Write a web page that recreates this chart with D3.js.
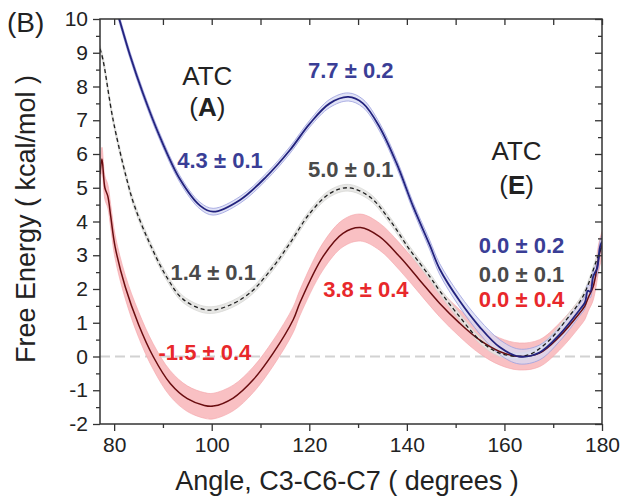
<!DOCTYPE html>
<html><head><meta charset="utf-8">
<script src="https://cdn.jsdelivr.net/npm/d3@7"></script>
<style>
html,body{margin:0;padding:0;background:#fff;}
svg{display:block;font-family:"Liberation Sans",Arial,sans-serif;}
</style></head>
<body><svg id="c" width="625" height="502"></svg>
<script>
// ---------------- data ----------------
const anglesBlue = [79.5, 81.1, 83.2, 85.9, 89.4, 93.5, 97.6, 100.3, 105.8, 111.2, 116.0, 120.1, 124.2, 128.0, 131.0, 134.4, 137.9, 141.3, 144.7, 146.7, 150.8, 154.9, 159.0, 163.0, 167.2, 171.3, 175.4, 176.5, 177.1, 177.6, 178.2, 179.0, 179.6, 180.0];
const energyBlue = [10.75, 9.97, 8.95, 7.80, 6.50, 5.25, 4.47, 4.29, 4.64, 5.33, 6.11, 6.90, 7.50, 7.69, 7.50, 6.80, 5.72, 4.44, 3.30, 2.60, 1.65, 0.88, 0.28, 0.00, 0.12, 0.65, 1.38, 1.60, 1.95, 1.92, 2.37, 2.62, 3.25, 3.40];
const errBlue    = [0.10, 0.10, 0.10, 0.10, 0.10, 0.10, 0.10, 0.10, 0.10, 0.10, 0.10, 0.10, 0.12, 0.12, 0.12, 0.12, 0.12, 0.12, 0.14, 0.16, 0.18, 0.20, 0.22, 0.22, 0.22, 0.20, 0.18, 0.18, 0.18, 0.18, 0.18, 0.18, 0.18, 0.18];

const anglesGray = [77.1, 77.7, 79.8, 82.5, 84.2, 87.3, 90.7, 94.1, 98.9, 103.0, 107.8, 112.6, 116.0, 120.1, 124.2, 128.0, 132.4, 136.5, 140.6, 144.7, 146.7, 150.8, 154.9, 159.0, 164.5, 168.6, 172.7, 176.1, 178.9, 180.0];
const energyGray = [9.12, 8.80, 7.00, 5.30, 4.45, 3.35, 2.37, 1.70, 1.38, 1.48, 1.88, 2.66, 3.35, 4.24, 4.83, 5.00, 4.73, 4.04, 3.16, 2.37, 1.95, 1.18, 0.49, 0.10, 0.03, 0.40, 1.09, 1.78, 2.86, 3.30];
const errGray    = [0.10, 0.10, 0.10, 0.10, 0.10, 0.10, 0.10, 0.10, 0.10, 0.10, 0.10, 0.10, 0.10, 0.10, 0.10, 0.10, 0.10, 0.10, 0.10, 0.10, 0.10, 0.10, 0.10, 0.10, 0.10, 0.10, 0.10, 0.10, 0.10, 0.10];

const anglesRed = [77.1, 77.5, 78.1, 78.7, 79.3, 80.2, 82.3, 85.0, 88.0, 91.5, 95.0, 98.5, 100.3, 104.4, 108.5, 112.6, 116.7, 118.1, 122.8, 126.9, 130.5, 134.4, 138.5, 142.6, 146.7, 150.8, 154.9, 159.0, 163.1, 167.2, 171.3, 175.4, 176.5, 177.2, 178.2, 179.5, 180.0];
const energyRed = [5.40, 5.85, 5.00, 4.75, 4.15, 3.25, 2.05, 0.95, 0.00, -0.80, -1.25, -1.45, -1.47, -1.23, -0.69, 0.10, 1.09, 1.60, 2.96, 3.65, 3.82, 3.55, 2.96, 2.27, 1.58, 0.99, 0.49, 0.15, 0.00, 0.10, 0.59, 1.28, 1.50, 1.75, 2.07, 3.06, 3.30];
const errRed    = [0.30, 0.35, 0.35, 0.35, 0.35, 0.35, 0.35, 0.38, 0.38, 0.38, 0.38, 0.38, 0.38, 0.38, 0.38, 0.38, 0.38, 0.38, 0.40, 0.40, 0.40, 0.40, 0.40, 0.40, 0.40, 0.40, 0.40, 0.40, 0.40, 0.40, 0.40, 0.40, 0.40, 0.40, 0.40, 0.40, 0.40];

const xTicksMajor = [80, 100, 120, 140, 160, 180];
const xTicksMinor = [90, 110, 130, 150, 170];
const yTicksMajor = [-2, -1, 0, 1, 2, 3, 4, 5, 6, 7, 8, 9, 10];
const yTicksMinor = [-1.5, -0.5, 0.5, 1.5, 2.5, 3.5, 4.5, 5.5, 6.5, 7.5, 8.5, 9.5];

const annotTexts  = ["7.7 ± 0.2", "4.3 ± 0.1", "5.0 ± 0.1", "1.4 ± 0.1", "-1.5 ± 0.4", "3.8 ± 0.4", "0.0 ± 0.2", "0.0 ± 0.1", "0.0 ± 0.4"];
const annotSeries = ["blue", "blue", "gray", "gray", "red", "red", "blue", "gray", "red"];
const annotAngle  = [128.5, 101.7, 128.5, 100.3, 98.6, 131.6, 163.5, 163.5, 163.5];
const annotEnergy = [8.24, 5.58, 5.33, 2.27, -0.10, 1.77, 3.06, 2.22, 1.46];

// ---------------- layout ----------------
const svg = d3.select("#c");
const L = 100, R = 602, T = 19, B = 424;
const x = d3.scaleLinear().domain([77.1, 180]).range([L, R]);
const y = d3.scaleLinear().domain([-2, 10]).range([B, T]);
const col = {blue: "#3a3e96", gray: "#4a4a4a", red: "#e8282b"};

svg.append("defs").append("clipPath").attr("id", "clip")
  .append("rect").attr("x", L).attr("y", T).attr("width", R - L).attr("height", B - T);

const plot = svg.append("g").attr("clip-path", "url(#clip)");

// zero reference line
plot.append("line").attr("x1", L).attr("x2", R).attr("y1", y(0)).attr("y2", y(0))
  .attr("stroke", "#d2d2d2").attr("stroke-width", 2).attr("stroke-dasharray", "10,5");

function series(a, e, err) { return a.map((v, i) => ({a: v, e: e[i], d: err[i]})); }
const curve = d3.curveCatmullRom.alpha(0.5);
const area = d3.area().x(d => x(d.a)).y0(d => y(d.e - d.d)).y1(d => y(d.e + d.d)).curve(curve);
const line = d3.line().x(d => x(d.a)).y(d => y(d.e)).curve(curve);

const sRed = series(anglesRed, energyRed, errRed);
const sGray = series(anglesGray, energyGray, errGray);
const sBlue = series(anglesBlue, energyBlue, errBlue);

plot.append("path").datum(sRed).attr("d", area).attr("fill", "#f8b9bc").attr("fill-opacity", 0.9)
  .attr("stroke", "#f4a3a7").attr("stroke-width", 0.6);
plot.append("path").datum(sGray).attr("d", area).attr("fill", "#e4e4e2").attr("fill-opacity", 0.9)
  .attr("stroke", "#d0d0cc").attr("stroke-width", 0.6);
plot.append("path").datum(sBlue).attr("d", area).attr("fill", "#d7d9f3").attr("fill-opacity", 0.75)
  .attr("stroke", "#9a9ede").attr("stroke-width", 0.8);

plot.append("path").datum(sRed).attr("d", line).attr("fill", "none").attr("stroke", "#6a0d10").attr("stroke-width", 1.5);
plot.append("path").datum(sGray).attr("d", line).attr("fill", "none").attr("stroke", "#1e1e1e").attr("stroke-width", 1.3)
  .attr("stroke-dasharray", "4,3");
plot.append("path").datum(sBlue).attr("d", line).attr("fill", "none").attr("stroke", "#23237e").attr("stroke-width", 1.8);

// ---------------- axes ----------------
const axCol = "#333";
const axes = svg.append("g");
axes.append("rect").attr("x", L).attr("y", T).attr("width", R - L).attr("height", B - T)
  .attr("fill", "none").attr("stroke", axCol).attr("stroke-width", 1.5);

const fmt = d => String(d);   // plain hyphen-minus like the reference
function styleAxis(g) {
  g.select(".domain").remove();
  g.selectAll(".tick line").attr("stroke", axCol).attr("stroke-width", 1.3);
  g.selectAll(".tick text").attr("fill", "#222").attr("font-family", "Liberation Sans, Arial, sans-serif").attr("font-size", 21);
}
// bottom: outward
axes.append("g").attr("transform", `translate(0,${B})`)
  .call(d3.axisBottom(x).tickValues(xTicksMajor).tickFormat(fmt).tickSize(7).tickPadding(6)).call(styleAxis);
axes.append("g").attr("transform", `translate(0,${B})`)
  .call(d3.axisBottom(x).tickValues(xTicksMinor).tickFormat("").tickSize(4)).call(styleAxis);
// top: inward
axes.append("g").attr("transform", `translate(0,${T})`)
  .call(d3.axisBottom(x).tickValues(xTicksMajor.concat(xTicksMinor)).tickFormat("").tickSize(6)).call(styleAxis);
// left: outward
axes.append("g").attr("transform", `translate(${L},0)`)
  .call(d3.axisLeft(y).tickValues(yTicksMajor).tickFormat(fmt).tickSize(7).tickPadding(5)).call(styleAxis);
axes.append("g").attr("transform", `translate(${L},0)`)
  .call(d3.axisLeft(y).tickValues(yTicksMinor).tickFormat("").tickSize(4)).call(styleAxis);
// right: inward
axes.append("g").attr("transform", `translate(${R},0)`)
  .call(d3.axisLeft(y).tickValues(yTicksMajor).tickFormat("").tickSize(7)).call(styleAxis);
axes.append("g").attr("transform", `translate(${R},0)`)
  .call(d3.axisLeft(y).tickValues(yTicksMinor).tickFormat("").tickSize(4)).call(styleAxis);

// axis titles
svg.append("text").attr("x", 347).attr("y", 490).attr("text-anchor", "middle")
  .attr("font-size", 27).attr("fill", "#222").text("Angle, C3-C6-C7 ( degrees )");
svg.append("text").attr("transform", "translate(34.5,219) rotate(-90)").attr("text-anchor", "middle")
  .attr("font-size", 27).attr("fill", "#222").text("Free Energy ( kcal/mol )");

// panel label
svg.append("text").attr("x", 7).attr("y", 32).attr("font-size", 28).attr("fill", "#222").text("(B)");

// state labels
function stateLabel(cx, line1y, line2y, letter) {
  svg.append("text").attr("x", cx).attr("y", line1y).attr("text-anchor", "middle")
    .attr("font-size", 26).attr("fill", "#222").text("ATC");
  const t = svg.append("text").attr("x", cx).attr("y", line2y).attr("text-anchor", "middle")
    .attr("font-size", 26).attr("fill", "#222");
  t.append("tspan").text("(");
  t.append("tspan").attr("font-weight", "bold").text(letter);
  t.append("tspan").text(")");
}
stateLabel(x(99.1), y(8.04), y(7.13), "A");
stateLabel(x(162.5), y(5.82), y(4.81), "E");

// value annotations
annotTexts.forEach((t, i) => {
  svg.append("text").attr("x", x(annotAngle[i])).attr("y", y(annotEnergy[i]))
    .attr("text-anchor", "middle").attr("font-size", 22).attr("font-weight", "bold")
    .attr("fill", col[annotSeries[i]]).text(t);
});
</script></body></html>
